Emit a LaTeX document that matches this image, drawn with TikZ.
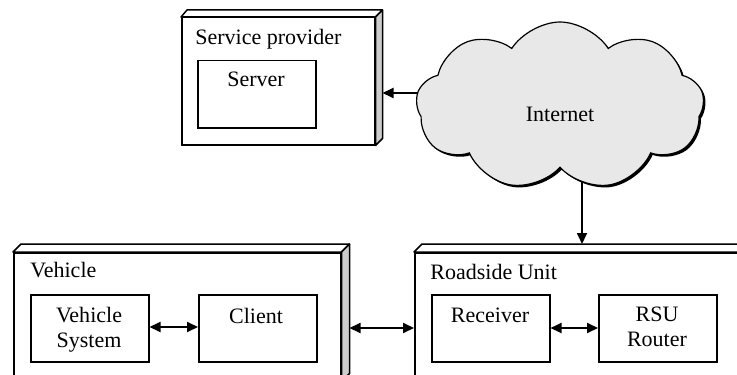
\documentclass[tikz,border=0pt]{standalone}
\usepackage{fontspec}
\setmainfont{Liberation Serif}
\usetikzlibrary{arrows.meta,shapes.symbols,shadows,calc}
\begin{document}
\begin{tikzpicture}[x=0.5pt,y=-0.5pt,
 font=\fontsize{11}{12.5}\selectfont,
 face/.style={draw, line width=0.75pt, fill=white, rectangle, inner sep=0pt, anchor=north west},
 inbox/.style={draw, line width=0.75pt, fill=white, rectangle, inner sep=0pt, minimum width=59pt, minimum height=33.5pt, anchor=north west},
 lbl/.style={inner sep=0pt, align=center, anchor=north},
 blbl/.style={inner sep=0pt, anchor=base},
 side/.style={draw, line width=0.75pt, fill=black!20, line join=round},
 topf/.style={draw, line width=0.75pt, fill=white, line join=round},
 tip/.tip={Triangle[length=5.5pt,width=5pt]},
 arr/.style={line width=0.9pt, -tip},
 darr/.style={line width=0.9pt, tip-tip},
]
\path[use as bounding box, clip] (0,0) rectangle (737,374);

% arrows under the cloud
\coordinate (c1) at (430,93);
\coordinate (c2) at (582,175);
\coordinate (rsutop) at (582,244);

% Service provider
\node[face, minimum width=96.5pt, minimum height=63.5pt] (sp) at (181,17) {};
\draw[topf] (sp.north west) -- ++(6,-7) -- ($(sp.north east)+(7,-7)$) -- (sp.north east) -- cycle;
\draw[side] (sp.north east) -- ++(7,-7) -- ($(sp.south east)+(7,-7)$) -- (sp.south east) -- cycle;
\node[anchor=base west, inner sep=0pt] (spT) at (195,45) {Service provider};
\node[inbox] (server) at (197,60) {};
\node[blbl] (serverT) at (256,87) {Server};

% Vehicle
\node[face, minimum width=163.5pt, minimum height=64pt] (veh) at (13,252) {};
\draw[topf] (veh.north west) -- ++(8,-8) -- ($(veh.north east)+(8,-8)$) -- (veh.north east) -- cycle;
\draw[side] (veh.north east) -- ++(8,-8) -- ($(veh.south east)+(8,-8)$) -- (veh.south east) -- cycle;
\node[anchor=base west, inner sep=0pt] (vehT) at (30,277) {Vehicle};
\node[inbox] (vs) at (30,294) {};
\node[lbl] (vsT) at (89,307) {Vehicle\\System};
\node[inbox] (cl) at (198,294) {};
\node[blbl] (clT) at (256,323) {Client};

% Roadside unit
\node[face, minimum width=163.5pt, minimum height=64pt] (rsu) at (414,252) {};
\draw[topf] (rsu.north west) -- ++(8,-8) -- ($(rsu.north east)+(8,-8)$) -- (rsu.north east) -- cycle;
\draw[side] (rsu.north east) -- ++(8,-8) -- ($(rsu.south east)+(8,-8)$) -- (rsu.south east) -- cycle;
\node[anchor=base west, inner sep=0pt] (rsuT) at (430,279) {Roadside Unit};
\node[inbox] (rec) at (431,294) {};
\node[blbl] (recT) at (490,322) {Receiver};
\node[inbox] (rr) at (598,294) {};
\node[lbl] (rrT) at (657,307) {RSU\\Router};

% connectors
\draw[arr] (c1) -- ($(sp.east |- c1)+(7,0)$);
\draw[arr] (c2) -- (rsutop);
\draw[darr] ($(veh.east |- 0,328)+(8,0)$) -- (rsu.west |- 0,328);
\draw[darr] (vs.east |- 0,327) -- (cl.west |- 0,327);
\draw[darr] (rec.east |- 0,328) -- (rr.west |- 0,328);

% cloud
\node[cloud, cloud puffs=9, cloud puff arc=115, draw, line width=0.6pt, fill=black!9, minimum width=144pt, minimum height=84pt, aspect=1.8, inner sep=0pt,
  text height=15.5pt, text depth=0pt,
  drop shadow={shadow xshift=1pt, shadow yshift=-1pt, opacity=1, fill=black}] (net) at (560,106) {Internet};
\end{tikzpicture}
\end{document}
